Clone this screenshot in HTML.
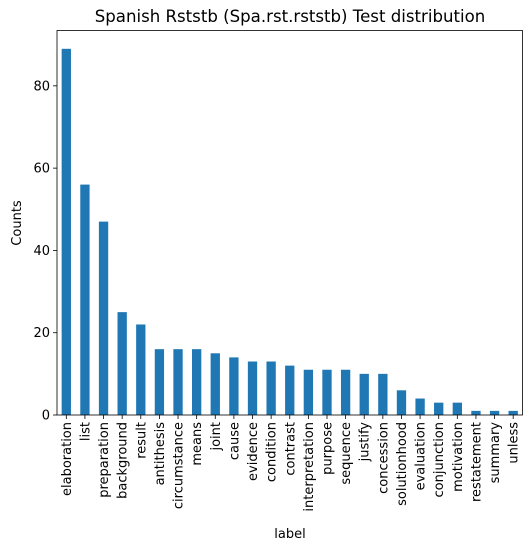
<!DOCTYPE html>
<html><head><meta charset="utf-8"><style>
body{margin:0;background:#fff;}
svg text{font-family:"DejaVu Sans","Liberation Sans",sans-serif;fill:#000;}
</style></head><body>
<svg id="chart" width="532" height="550" xmlns="http://www.w3.org/2000/svg">
<text x="290" y="22" font-size="16.6" text-anchor="middle">Spanish Rststb (Spa.rst.rststb) Test distribution</text>
<g id="bars"></g>
<g id="axes"></g>
<text x="0" y="0" font-size="13" text-anchor="middle" transform="translate(21,223) rotate(-90)">Counts</text>
<text x="290" y="538" font-size="13" text-anchor="middle">label</text>
</svg>
<script>
const categories=["elaboration","list","preparation","background","result","antithesis","circumstance","means","joint","cause","evidence","condition","contrast","interpretation","purpose","sequence","justify","concession","solutionhood","evaluation","conjunction","motivation","restatement","summary","unless"];
const counts=[89,56,47,25,22,16,16,16,15,14,13,13,12,11,11,11,10,10,6,4,3,3,1,1,1];
const yTicks=[0,20,40,60,80];
const NS="http://www.w3.org/2000/svg";
const L=57,R=522.5,T=30.5,B=415;
const ymax=Math.max(...counts)*1.05;
const slot=(R-L)/categories.length;
function x(i){return L+slot*(i+0.5);}
function y(v){return B-(v/ymax)*(B-T);}
const bars=document.getElementById('bars'),axes=document.getElementById('axes');
function mk(t,a,p){const e=document.createElementNS(NS,t);for(const k in a)e.setAttribute(k,a[k]);p.appendChild(e);return e;}
categories.forEach((c,i)=>{
  const r=mk('rect',{x:x(i)-slot*0.25,y:y(counts[i]),width:slot*0.5,height:B-y(counts[i]),fill:'#1f77b4'},bars);
  
  
  const tk=mk('line',{x1:x(i),x2:x(i),y1:B,y2:B+4,stroke:'#000','stroke-width':0.8},axes);
  
  
  const t=mk('text',{'font-size':13,'text-anchor':'end',transform:`translate(${x(i)+4.5},${B+7}) rotate(-90)`},axes);
  t.textContent=c;
  
  
});
yTicks.forEach(v=>{
  const tk=mk('line',{x1:L-4,x2:L,y1:y(v),y2:y(v),stroke:'#000','stroke-width':0.8},axes);
  
  
  const t=mk('text',{x:L-7,y:y(v)+4.5,'font-size':13,'text-anchor':'end'},axes);
  t.textContent=v;
  
  
});
const f=mk('rect',{x:L,y:T,width:R-L,height:B-T,fill:'none',stroke:'#000','stroke-width':0.8},axes);


</script>
</body></html>
